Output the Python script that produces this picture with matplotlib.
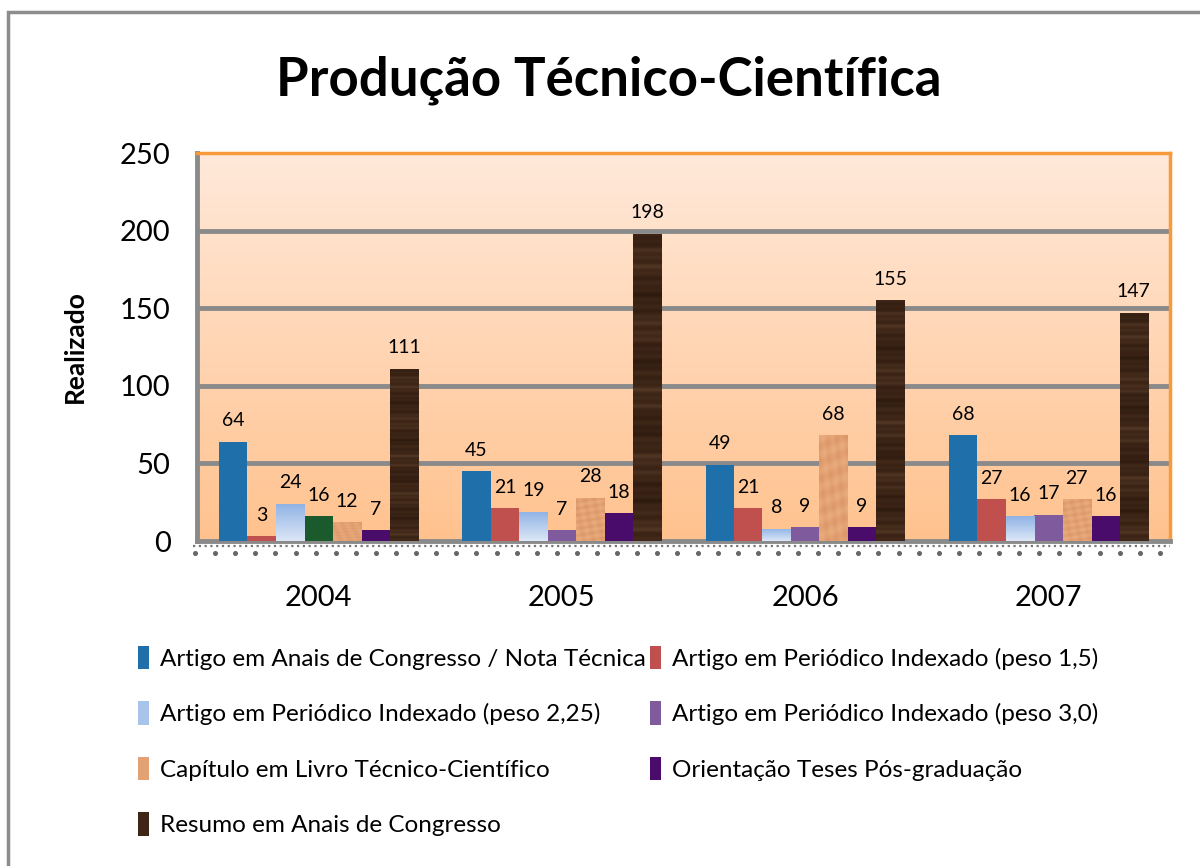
import matplotlib
matplotlib.use("Agg")
import matplotlib.pyplot as plt
import numpy as np
from matplotlib.patches import Rectangle
from matplotlib.colors import LinearSegmentedColormap

years = ["2004", "2005", "2006", "2007"]
series_names = [
    "Artigo em Anais de Congresso / Nota Técnica",
    "Artigo em Periódico Indexado (peso 1,5)",
    "Artigo em Periódico Indexado (peso 2,25)",
    "Artigo em Periódico Indexado (peso 3,0)",
    "Capítulo em Livro Técnico-Científico",
    "Orientação Teses Pós-graduação",
    "Resumo em Anais de Congresso",
]
anais_nota = [64, 45, 49, 68]
periodico_15 = [3, 21, 21, 27]
periodico_225 = [24, 19, 8, 16]
periodico_30 = [16, 7, 9, 17]
capitulo = [12, 28, 68, 27]
orientacao = [7, 18, 9, 16]
resumo = [111, 198, 155, 147]
series_values = [anais_nota, periodico_15, periodico_225, periodico_30,
                 capitulo, orientacao, resumo]
colors = ["#1F6FAB", "#C0504D", "#A9C4EB", "#7F5A9C", "#E2A273", "#4A0C6B", "#3F2616"]
special_2004_color = "#1B5A2C"

plt.rcParams['font.family'] = ['Lato', 'DejaVu Sans']

fig = plt.figure(figsize=(12, 8.66), dpi=100)
fig.patches.append(Rectangle((8/1200, -0.1), 1.2, 1 - 12/866 + 0.1, transform=fig.transFigure,
                             fill=False, edgecolor="#8c8c8c", linewidth=2.5))

ax = fig.add_axes([197/1200, 1 - 541/866, 973/1200, 388/866])

grad = np.linspace(0, 1, 256).reshape(-1, 1)
bg_cmap = LinearSegmentedColormap.from_list("bg", ["#FFC28E", "#FFE9DA"])
ax.imshow(grad, extent=[0, 1, 0, 1], transform=ax.transAxes, cmap=bg_cmap,
          origin="lower", aspect="auto", zorder=0)

# decorative textures (styling only)
yy = np.linspace(0, 1, 300).reshape(-1, 1)
streak = 0.35 + 0.2 * np.sin(yy * 61) * np.sin(yy * 173 + 1.3) + 0.15 * np.sin(yy * 29 + 0.4)
brown_cmap = LinearSegmentedColormap.from_list("br", ["#2E1A0E", "#432A1A", "#6E5038"])
xx = np.linspace(0, 1, 12).reshape(1, -1)
ym = np.linspace(0, 1, 40).reshape(-1, 1)
mottle = 0.5 + 0.2 * np.sin(ym * 23 + xx * 7) * np.cos(xx * 11 - ym * 17)
peach_cmap = LinearSegmentedColormap.from_list("pc", ["#C9805A", "#E4A272", "#F3C39A"])

x = np.arange(len(years))
n = len(series_values)
w = 0.117
handles = []
for i, (vals, col) in enumerate(zip(series_values, colors)):
    offs = (i - (n - 1) / 2) * w
    cols = [col] * len(vals)
    if i == 3:
        cols[0] = special_2004_color
    bars = ax.bar(x + offs, vals, width=w, color=cols, zorder=3, linewidth=0)
    handles.append(Rectangle((0, 0), 1, 1, facecolor=col))
    if i in (2, 4, 6):
        for b in bars:
            ext = [b.get_x(), b.get_x() + b.get_width(), 0, b.get_height()]
            if i == 2:
                cm = LinearSegmentedColormap.from_list("lb", ["#DDE7F7", "#8EB2E4"])
                im = ax.imshow(grad, extent=ext, cmap=cm, origin="lower", aspect="auto", zorder=3.5)
            elif i == 4:
                im = ax.imshow(mottle, extent=ext, cmap=peach_cmap, origin="lower",
                               aspect="auto", zorder=3.5, interpolation="bicubic", vmin=0, vmax=1)
            else:
                im = ax.imshow(streak, extent=ext, cmap=brown_cmap, origin="lower",
                               aspect="auto", zorder=3.5, interpolation="bilinear", vmin=0, vmax=1)
            im.set_clip_path(b)
    for xi, v in zip(x + offs, vals):
        ax.annotate(str(v), (xi, v), xytext=(0, 9), textcoords="offset points",
                    ha="center", va="bottom", fontsize=14, zorder=5)

ax.set_xlim(-0.5, 3.5)
ax.set_ylim(0, 250)
ax.set_yticks([0, 50, 100, 150, 200, 250])
for yv in [50, 100, 150, 200]:
    ax.axhline(yv, color="#8a8a8a", linewidth=3.5, zorder=2)
ax.set_xticks(x)
ax.set_xticklabels(years)
ax.tick_params(axis="x", length=0, pad=32, labelsize=21)
ax.tick_params(axis="y", length=0, pad=19, labelsize=21)
for s in ["top", "right"]:
    ax.spines[s].set_color("#F79A3A")
    ax.spines[s].set_linewidth(2.5)
for s in ["left", "bottom"]:
    ax.spines[s].set_color("#8a8a8a")
    ax.spines[s].set_linewidth(3.5)

# dotted decoration under the x axis
ax.plot([-4/973, 1], [-5/388, -5/388], transform=ax.transAxes, color="#777777",
        linestyle=(0, (1, 1.6)), linewidth=1.6, clip_on=False)
dot_x = np.arange(-2, 981, 20.1) / 973
ax.plot(dot_x, np.full_like(dot_x, -12/388), transform=ax.transAxes, linestyle="none",
        marker="o", markersize=2.6, color="#666666", clip_on=False)

ax.set_ylabel("Realizado", fontsize=19, fontweight="bold")
ax.yaxis.set_label_coords(-110/973, 0.5)

fig.text(0.507, 1 - 80/866, "Produção Técnico-Científica", ha="center", va="center",
         fontsize=38, fontweight="bold")

order = [0, 2, 4, 6, 1, 3, 5]
leg = fig.legend([handles[i] for i in order], [series_names[i] for i in order],
                 ncol=2, loc="upper left", bbox_to_anchor=(116/1200, 1 - 624/866),
                 frameon=False, fontsize=17.5, handlelength=0.45, handleheight=1.1,
                 handletextpad=0.45, columnspacing=0.2, labelspacing=1.3)

fig.savefig("out.png", dpi=100)
